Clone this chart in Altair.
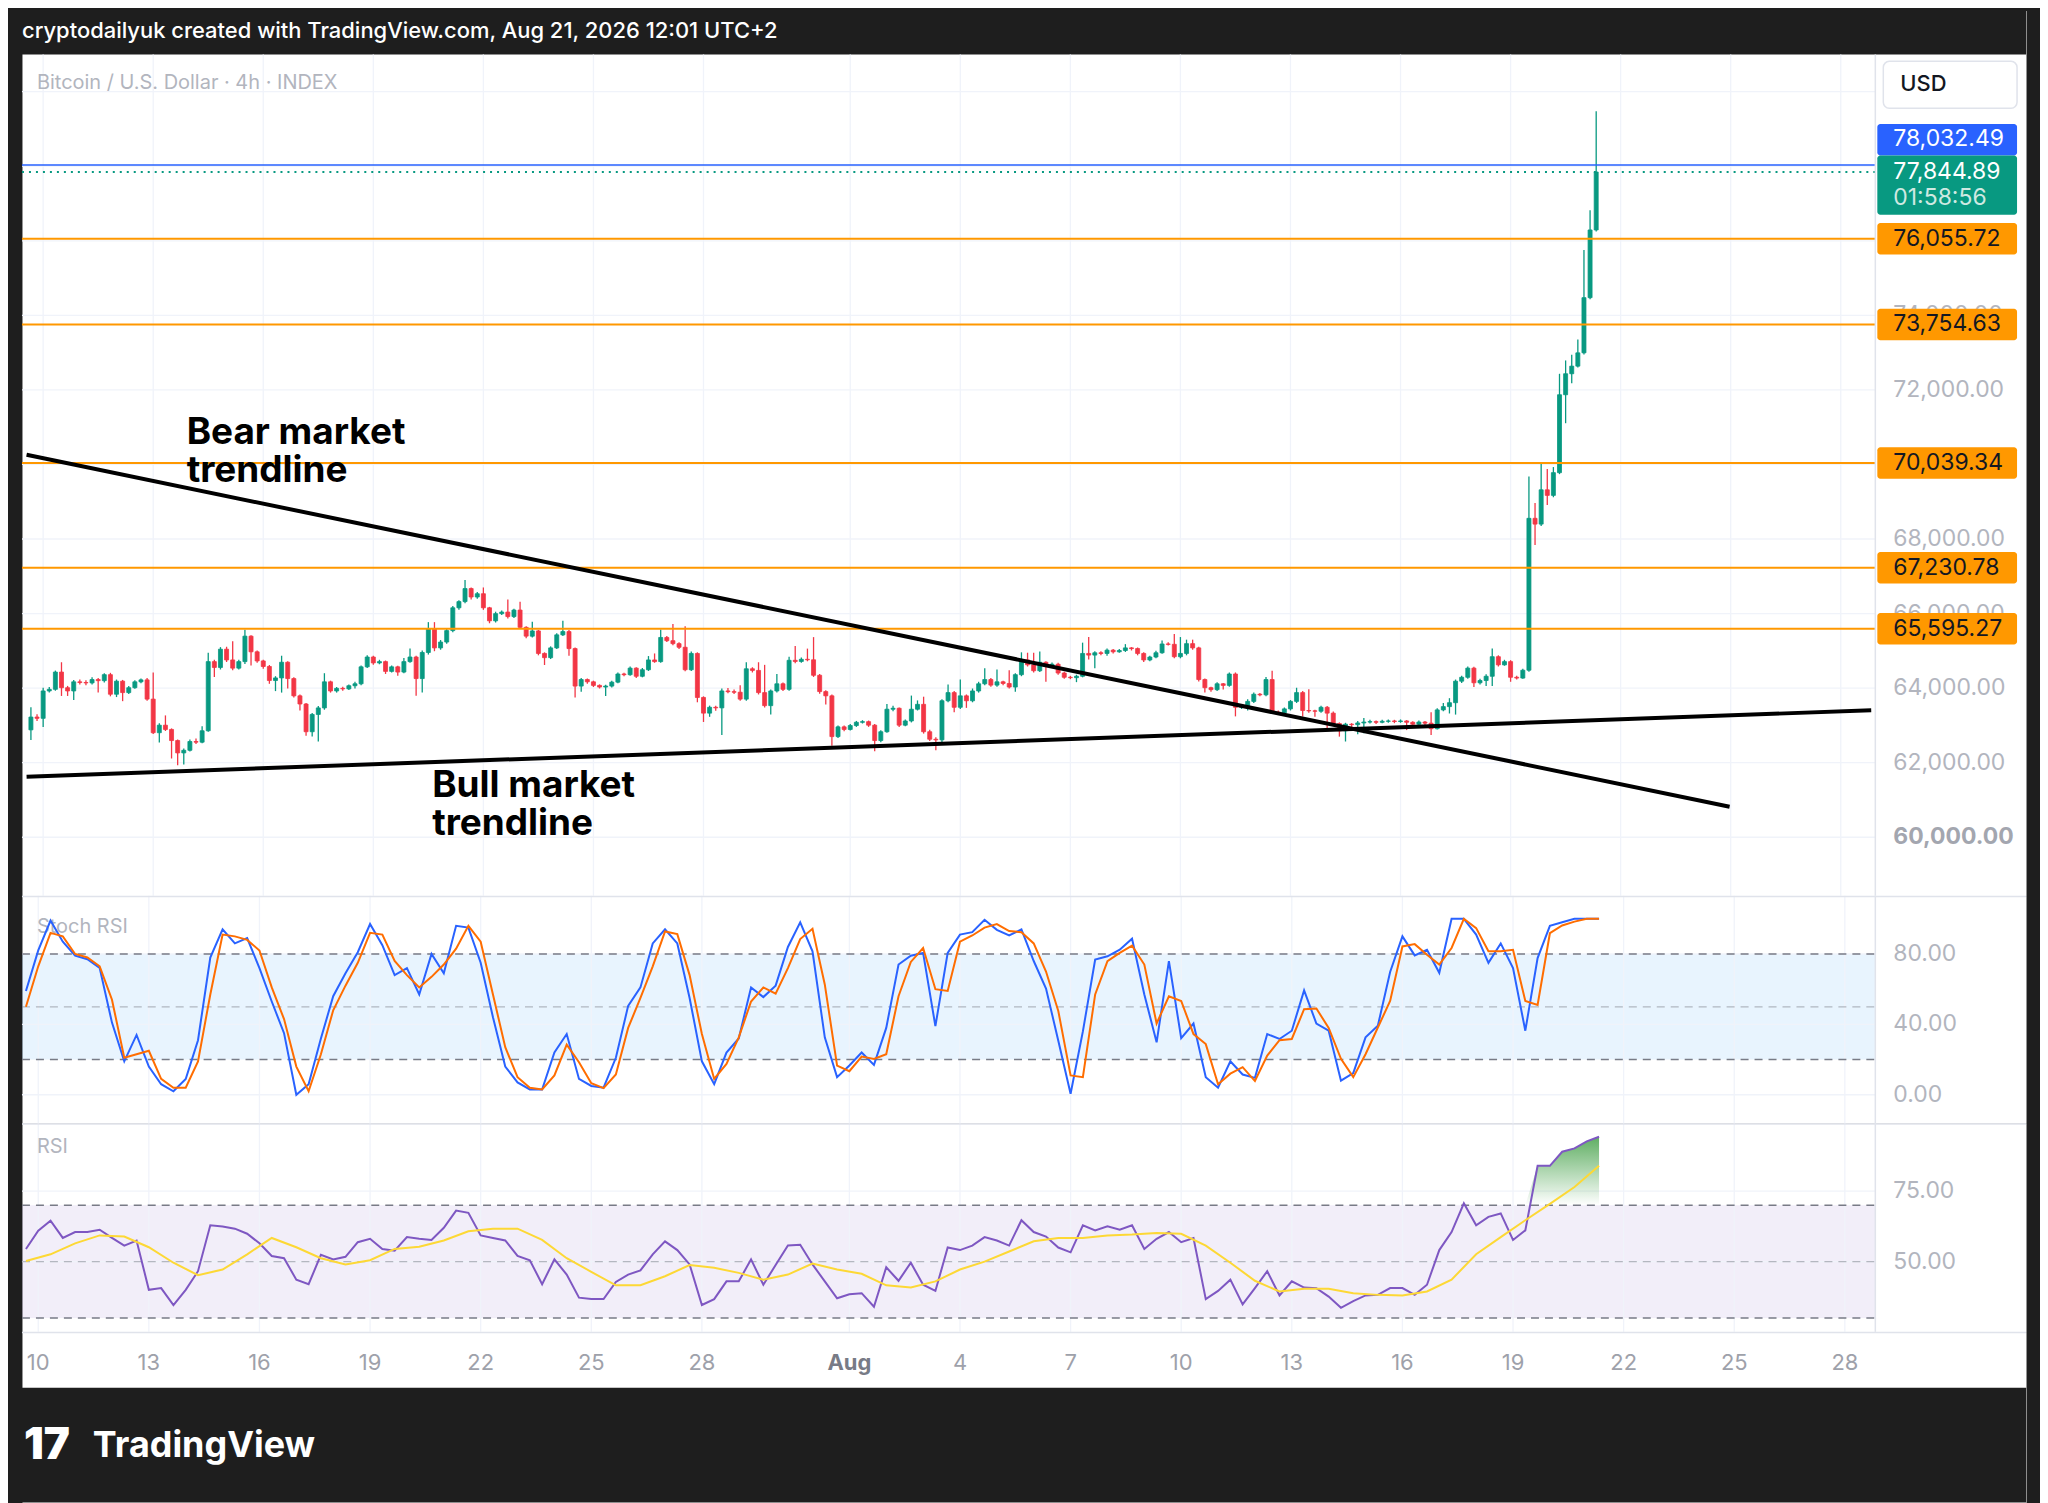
import altair as alt
import pandas as pd

# ---------------- data ----------------
first_open = 62880
close = [
    63224, 63190, 63924, 63968, 64431, 64011, 63924, 64169, 64150, 64140,
    64230, 64200, 64361, 63836, 64186, 63880, 64011, 64169, 64221, 63705,
    62804, 63006, 62891, 62594, 62262, 62332, 62568, 62550, 62856, 64711,
    64554, 65044, 64756, 64536, 64711, 65394, 64974, 64729, 64580, 64204,
    64274, 64694, 64256, 63793, 63574, 62830, 63294, 63469, 64169, 63924,
    63994, 63980, 64064, 64116, 64571, 64834, 64676, 64711, 64449, 64571,
    64431, 64711, 64834, 64256, 64956, 65587, 65079, 65236, 65543, 66155,
    66321, 66671, 66444, 66532, 66155, 65805, 65998, 66040, 65919, 66094,
    65630, 65394, 65534, 64930, 64817, 65079, 65429, 65517, 65061, 64055,
    64230, 64169, 64073, 64029, 64055, 64160, 64379, 64360, 64536, 64318,
    64493, 64756, 64711, 65359, 65272, 65193, 65096, 64493, 64930, 63749,
    63329, 63486, 63470, 63924, 63905, 63890, 63705, 64519, 64475, 63880,
    63530, 63924, 64116, 63968, 64746, 64715, 64773, 64760, 64344, 63907,
    63793, 62699, 62961, 62891, 62996, 63084, 63100, 63006, 62594, 62830,
    63434, 63460, 63006, 63119, 63434, 63565, 62830, 62629, 62612, 63661,
    63880, 63486, 63793, 63661, 63924, 64116, 64230, 64081, 64169, 64125,
    64029, 64361, 64756, 64624, 64466, 64694, 64580, 64641, 64405, 64291,
    64280, 64318, 64930, 64886, 64948, 64930, 65018, 64974, 65009, 65079,
    65061, 64930, 64756, 64834, 64948, 65184, 65175, 64843, 64930, 65193,
    65079, 64230, 64011, 63959, 64116, 64073, 64379, 63486, 63520, 63644,
    63836, 63820, 64230, 63355, 63340, 63443, 63644, 63880, 63399, 63390,
    63380, 63486, 63329, 63049, 62856, 63032, 63020, 63066, 63090, 63100,
    63084, 63110, 63119, 63105, 63119, 63084, 63032, 63090, 63060, 62911,
    63416, 63504, 63609, 64186, 64291, 64536, 64143, 64204, 64318, 64843,
    64624, 64711, 64291, 64270, 64480, 68555, 68400, 69320, 69170, 69780,
    71870, 72433, 72637, 72994, 74474, 76290, 77845,
]
high = [
    63487, 63300, 64010, 64030, 64470, 64694, 64060, 64220, 64230, 64210,
    64290, 64270, 64400, 64410, 64230, 64220, 64060, 64210, 64260, 64270,
    64420, 63060, 63268, 62920, 62620, 62380, 62620, 62650, 62980, 64948,
    64760, 65100, 65110, 65254, 64760, 65569, 65420, 65010, 64760, 64620,
    64320, 64869, 64720, 64290, 63830, 63600, 63330, 63520, 64400, 64200,
    64030, 64040, 64100, 64170, 64610, 64880, 64870, 64760, 64740, 64610,
    64600, 64810, 65061, 64870, 65010, 65770, 65770, 65290, 65600, 66200,
    66360, 66899, 66700, 66580, 66700, 66180, 66050, 66080, 66380, 66130,
    66320, 65660, 65780, 65560, 64960, 65120, 65470, 65805, 65560, 65090,
    64270, 64260, 64200, 64100, 64090, 64200, 64420, 64410, 64580, 64560,
    64540, 64860, 64930, 65570, 65400, 65718, 65230, 65657, 64980, 64960,
    63780, 63530, 63530, 63990, 64000, 63960, 64080, 64694, 64560, 64694,
    64624, 63960, 64380, 64150, 64840, 65130, 64820, 65060, 65368, 64380,
    63940, 63830, 63000, 63000, 63040, 63120, 63140, 63130, 63040, 62870,
    63574, 63530, 63480, 63160, 63800, 63670, 63770, 62880, 62680, 63700,
    64100, 63920, 64230, 63830, 63990, 64170, 64536, 64270, 64500, 64200,
    64480, 64400, 64960, 64950, 64950, 64980, 64720, 64690, 64680, 64440,
    64330, 64360, 65220, 65368, 64990, 64990, 65060, 65050, 65050, 65180,
    65100, 65090, 64960, 64870, 65000, 65280, 65230, 65455, 65370, 65300,
    65300, 65110, 64260, 64040, 64160, 64140, 64420, 64420, 63560, 63700,
    63880, 63870, 64300, 64466, 63400, 63480, 63680, 64010, 63920, 63968,
    63420, 63530, 63520, 63370, 63080, 63070, 63060, 63120, 63200, 63150,
    63130, 63150, 63160, 63150, 63160, 63140, 63110, 63130, 63120, 63355,
    63460, 63600, 63730, 64230, 64330, 64580, 64570, 64250, 64370, 65061,
    64880, 64760, 64750, 64330, 64520, 69677, 68963, 70035, 69880, 69930,
    72432, 72790, 72940, 73351, 75750, 76821, 79474,
]
low = [
    62611, 63120, 62960, 63880, 63930, 63790, 63790, 63679, 64100, 64080,
    64100, 63880, 64150, 63780, 63760, 63650, 63840, 63980, 64130, 63660,
    62770, 62540, 62850, 62112, 61930, 61950, 62300, 62500, 62520, 62830,
    64300, 64500, 64700, 64480, 64500, 64650, 64610, 64680, 64520, 64116,
    63920, 63880, 63990, 63750, 63400, 62720, 62700, 62568, 63420, 63880,
    63880, 63930, 63950, 63990, 64080, 64540, 64630, 64640, 64380, 64420,
    64330, 64400, 64680, 63793, 63880, 64900, 64990, 65030, 65190, 65500,
    66100, 66280, 66380, 66400, 66100, 65740, 65760, 65960, 65870, 65880,
    65590, 65340, 65360, 64880, 64620, 64780, 65050, 65400, 64870, 63749,
    63900, 64120, 64030, 63990, 63790, 64020, 64130, 64320, 64330, 64270,
    64290, 64460, 64680, 64680, 65240, 65150, 65050, 64450, 64460, 63620,
    63092, 63230, 63390, 62743, 63860, 63840, 63660, 63660, 64420, 63830,
    63480, 63290, 63880, 63920, 63930, 64670, 64680, 64720, 64300, 63850,
    63560, 62454, 62660, 62840, 62860, 62960, 63050, 62960, 62305, 62550,
    62800, 63380, 62960, 62980, 63080, 63400, 62780, 62580, 62332, 62480,
    63620, 63355, 63440, 63470, 63620, 63880, 64080, 64040, 64040, 64080,
    63990, 63900, 64320, 64580, 64420, 64430, 64169, 64540, 64360, 64250,
    64240, 64160, 64290, 64770, 64536, 64880, 64870, 64930, 64950, 64970,
    65010, 64880, 64700, 64720, 64800, 64920, 65140, 64800, 64800, 64880,
    65030, 64180, 63880, 63900, 63920, 63960, 64040, 63242, 63440, 63400,
    63600, 63780, 63780, 63310, 63280, 63290, 63400, 63600, 63242, 63340,
    63230, 63340, 62874, 63000, 62699, 62568, 62960, 62760, 62790, 63050,
    63040, 63060, 63070, 63060, 63070, 62874, 62990, 63000, 63010, 62743,
    62890, 63380, 63320, 63290, 64140, 64250, 64030, 64100, 64060, 64060,
    64580, 64600, 64170, 64230, 64250, 64440, 67841, 68350, 68910, 69120,
    69740, 71106, 72180, 72600, 72950, 74430, 76250,
]
# Stoch RSI %K / %D and RSI, one value every second 4h candle
stoch_k = [
    59, 82, 99, 87, 79, 77, 72, 41, 19, 34, 16, 6, 2, 9, 31, 78, 94, 86, 89, 72,
    53, 35, 0, 6, 32, 56, 69, 81, 97, 85, 68, 72, 57, 80, 69, 96, 95, 75, 44, 16,
    7, 3, 3, 24,
    34.5, 9, 5, 4, 21, 50.5, 61, 86, 94, 86, 55, 19, 6, 24, 32, 61, 55.5, 62, 84, 98,
    81.5, 32.6, 10, 16.6, 24, 17, 38, 74, 79, 80.6, 39, 80.6, 91, 92.4, 99.4, 93.7,
    90.5, 94, 76, 60.4, 30.7, 0.6, 36,
    76.8, 78.7, 82.4, 88.7, 57, 29.8, 75.9, 32.2, 40.5, 10, 4, 19, 11.5, 9.6, 34.5,
    31.7, 36.4, 59.3, 40.5, 36.4, 8, 12.3, 32.6, 39.2, 69.8, 90, 79.2, 82.4, 69.3,
    100, 100, 91, 75, 86, 72, 36.4, 77.7, 96, 98, 100, 100, 100,
]
stoch_d = [
    50, 73, 92, 90, 80, 78, 73, 54, 21, 23, 25, 9, 4, 4, 19, 57, 91, 90, 88, 82,
    61, 43, 16, 2, 23, 48, 62, 75, 92, 91, 76, 68, 61, 67, 74, 83, 96, 87, 57, 27,
    10, 4, 3, 11,
    28.5, 18.5, 6.6, 3.8, 11.5, 38, 55, 73, 92.8, 91.3, 68, 34.5, 9, 17.5, 32.6, 53,
    61, 57.4, 72, 88.5, 94.3, 62.7, 16.6, 13.4, 21.7, 20.4, 23, 56, 75.5, 83.4, 60,
    59, 87, 90.5, 95, 97, 93, 92.4, 86, 70, 47.6, 11, 10,
    57, 75.9, 80.6, 84.7, 74, 40.5, 56, 53.3, 34.5, 28.8, 6, 12, 15.7, 7.8, 22.3, 31,
    31.7, 48.6, 49, 38, 20.4, 10, 23, 38.2, 53.3, 84.3, 85.6, 79.6, 74, 83.4, 100,
    94.7, 81.5, 81.5, 82.4, 53.3, 51, 91.8, 96.2, 98.4, 100, 100,
]
rsi = [
    54.5, 61, 64.5, 58.4, 60.5, 60.5, 61.3, 58.4, 55.7, 57.5, 40, 40.6, 34.6, 40,
    46.6, 62.9, 62.5, 61.7, 59.9, 56.5, 52, 51.2, 43.6, 42, 52.4, 50.8, 51.7, 56.9,
    58.1, 54.5, 53.9, 58.7, 58.1, 57.7, 62, 68.1, 67.3, 59.3, 58.4, 57.5, 52, 50.5,
    42, 50.8,
    45.4, 37.2, 36.7, 36.7, 42.8, 45.4, 46.9, 52.6, 57.2, 54.1, 49, 34.6, 36.7, 43,
    43, 50.8, 41.8, 48.8, 55.7, 56, 49, 43, 37, 38.4, 38.8, 34, 48, 43.2, 49.6, 41.8,
    39.6, 55, 54.1, 55.7, 58.7, 57.5, 55.7, 64.7, 60.5, 58.9, 55, 53.3, 62.9,
    61.1, 62.5, 61.3, 62.9, 54.5, 58.1, 60.5, 56.9, 58.4, 36.7, 39.6, 43.6, 34.8,
    40.6, 46.6, 38, 43, 40.8, 40.6, 37.6, 33.6, 36, 38, 38.2, 40.6, 40.6, 38.2, 41.8,
    54.1, 60.5, 70.7, 62.9, 65.9, 67.1, 57.7, 61.1, 84, 84, 89, 90.2, 92.7, 94.3,
]
# RSI-based moving average, one value every fourth 4h candle
rsi_ma = [
    50.2, 52.6, 56.5, 59.3, 58.9, 55.1, 49.6, 45.2, 47.2, 52.6, 58.4, 55.1, 51.2, 49,
    50.5, 54.5, 55.3, 57.5, 60.8, 61.7, 61.7, 57.7,
    51.2, 46.4, 41.6, 41.6, 44.8, 48.8, 47.8, 46, 43.6, 45.4, 49.3, 47.2, 45.7, 41.6,
    40.8, 43, 47.2, 50, 53.6, 57.2, 58.4, 58.4,
    59.3, 59.6, 60.2, 59.9, 55.7, 49.6, 43.2, 39.4, 40.4, 40.4, 38.8, 38.2, 38, 39.4,
    43.6, 52.6, 58.7, 64.7, 70.5, 76.5, 84,
]
levels = [76055.72, 73754.63, 70039.34, 67230.78, 65595.27]
last_high = 78032.49
last_price = 77844.89
countdown = "01:58:56"
price_grid = [60000, 62000, 64000, 66000, 68000, 70000, 72000, 74000, 76000, 78000, 80000]
price_ticks = [60000, 62000, 64000, 66000, 68000, 72000, 74000]   # labels not hidden by boxes
stoch_ticks = [0, 40, 80]
rsi_ticks = [50, 75]
stoch_levels = [80, 20]
rsi_levels = [70, 30]
date_days = [0, 3, 6, 9, 12, 15, 18, 22, 25, 28, 31, 34, 37, 40, 43, 46, 49]
date_labels = ["10", "13", "16", "19", "22", "25", "28", "Aug", "4", "7", "10",
               "13", "16", "19", "22", "25", "28"]
bear_day = [-0.452, 45.97]
bear_price = [70260, 60819]
bull_day = [-0.452, 49.83]
bull_price = [61622, 63406]

assert len(close) == len(high) == len(low) == 257
assert len(stoch_k) == len(stoch_d) == len(rsi) == 129
assert len(rsi_ma) == 65

# ---------------- style / layout ----------------
FONT = "Inter"
BG = "#1e1e1e"
UP, DOWN = "#089981", "#f23645"
ORANGE, BLUE = "#ff9800", "#2962ff"
GRID, BORDER = "#f0f3fa", "#e0e3eb"
AX = "#b2b5be"
W = 2008
SEP = 1857
LBL_X = 1875
BX1, BX2 = 1859, 1999
BOX_HALF = 15.8
H_HEAD, H_MAIN, H_STOCH, H_RSI, H_TIME, H_FOOT = 44, 843, 228, 209, 56, 115
X_DOM = [-0.4412, 53.914]
MAIN_DOM = [58431, 81000]
STOCH_DOM = [-16.2, 113.1]
RSI_DOM = [25.07, 99.1]

ONE = pd.DataFrame({"a": [0]})


def X(field="day"):
    return alt.X(f"{field}:Q", scale=alt.Scale(domain=X_DOM, nice=False, zero=False), axis=None)


def Y(field, dom):
    return alt.Y(f"{field}:Q", scale=alt.Scale(domain=dom, nice=False, zero=False), axis=None)


def txt(text, x, y, size=21, color=AX, weight="normal", align="left", line_height=None):
    kw = dict(text=text, font=FONT, fontSize=size, color=color, fontWeight=weight,
              align=align, baseline="middle")
    if line_height:
        kw["lineHeight"] = line_height
    return alt.Chart(ONE).mark_text(**kw).encode(x=alt.value(x), y=alt.value(y))


def vgrid(h):
    return alt.Chart(pd.DataFrame({"day": date_days})).mark_rule(
        color=GRID, strokeWidth=1.3).encode(x=X(), y=alt.value(0), y2=alt.value(h))


def hline(values, dom, color, width=1.3, dash=None, x2=SEP, opacity=1.0):
    kw = dict(color=color, strokeWidth=width, opacity=opacity)
    if dash:
        kw["strokeDash"] = dash
    return alt.Chart(pd.DataFrame({"v": values})).mark_rule(**kw).encode(
        y=Y("v", dom), x=alt.value(0), x2=alt.value(x2))


def sep(h):
    return alt.Chart(ONE).mark_rule(color=BORDER, strokeWidth=1.5).encode(
        x=alt.value(SEP), y=alt.value(0), y2=alt.value(h))


def top_border():
    return alt.Chart(ONE).mark_rule(color=BORDER, strokeWidth=1.5).encode(
        x=alt.value(0), x2=alt.value(W), y=alt.value(0.75))


# ---------------- frames ----------------
n = len(close)
candles = pd.DataFrame({
    "day": [(i - 2) / 6 for i in range(n)],
    "open": [first_open] + close[:-1],
    "close": close, "high": high, "low": low,
})
ind = pd.DataFrame({"day": [(2 * k - 2) / 6 for k in range(len(rsi))],
                    "k": stoch_k, "d": stoch_d, "rsi": rsi})
ma = pd.DataFrame({"day": [(4 * k - 2) / 6 for k in range(len(rsi_ma))], "ma": rsi_ma})
trend = pd.DataFrame({
    "day": bear_day + bull_day, "price": bear_price + bull_price,
    "name": ["bear", "bear", "bull", "bull"],
})
lv = pd.DataFrame({"price": levels, "label": [f"{v:,.2f}" for v in levels]})
ticks = pd.DataFrame({"price": price_ticks[1:], "label": [f"{v:,.2f}" for v in price_ticks[1:]]})
tick0 = pd.DataFrame({"price": price_ticks[:1], "label": [f"{v:,.2f}" for v in price_ticks[:1]]})

updown = alt.condition("datum.close >= datum.open", alt.value(UP), alt.value(DOWN))

# ---------------- header ----------------
header = alt.layer(
    alt.Chart(ONE).mark_rect(color=BG).encode(
        x=alt.value(0), x2=alt.value(W), y=alt.value(0), y2=alt.value(H_HEAD)),
    txt("cryptodailyuk created with TradingView.com, Aug 21, 2026 12:01 UTC+2",
        0, 21, size=22, color="#ffffff", weight=500),
).properties(width=W, height=H_HEAD)

# ---------------- main pane ----------------
wicks = alt.Chart(candles).mark_rule(strokeWidth=1.3).encode(
    x=X(), y=Y("low", MAIN_DOM), y2="high:Q", color=updown)
bodies = alt.Chart(candles).mark_bar(size=4, strokeWidth=0.8).encode(
    x=X(), y=Y("open", MAIN_DOM), y2="close:Q", color=updown, stroke=updown)
trendlines = alt.Chart(trend).mark_line(color="#000000", strokeWidth=4, clip=True).encode(
    x=X(), y=Y("price", MAIN_DOM), detail="name:N")

price_labels = alt.Chart(ticks).mark_text(
    font=FONT, fontSize=23, color=AX, align="left", baseline="middle").encode(
    x=alt.value(LBL_X), y=Y("price", MAIN_DOM), text="label:N")
price_label0 = alt.Chart(tick0).mark_text(
    font=FONT, fontSize=23, color="#a3a6af", fontWeight="bold", align="left",
    baseline="middle").encode(x=alt.value(LBL_X), y=Y("price", MAIN_DOM), text="label:N")

level_boxes = alt.Chart(lv).mark_rect(
    color=ORANGE, yOffset=-BOX_HALF, y2Offset=BOX_HALF, cornerRadius=3).encode(
    x=alt.value(BX1), x2=alt.value(BX2), y=Y("price", MAIN_DOM), y2="price:Q")
level_text = alt.Chart(lv).mark_text(
    font=FONT, fontSize=23, color="#131722", align="left", baseline="middle").encode(
    x=alt.value(LBL_X), y=Y("price", MAIN_DOM), text="label:N")


def box(y1, y2, color):
    return alt.Chart(ONE).mark_rect(color=color, cornerRadius=3).encode(
        x=alt.value(BX1), x2=alt.value(BX2), y=alt.value(y1), y2=alt.value(y2))


main = alt.layer(
    vgrid(H_MAIN),
    hline(price_grid, MAIN_DOM, GRID),
    wicks, bodies,
    hline([last_high], MAIN_DOM, BLUE, width=1.5),
    hline([last_price], MAIN_DOM, UP, width=2, dash=[2, 5]),
    hline(levels, MAIN_DOM, ORANGE, width=2),
    trendlines,
    txt("Bitcoin / U.S. Dollar · 4h · INDEX", 15, 29, size=20),
    txt(["Bear market", "trendline"], 165, 379, size=37, color="#000000",
        weight="bold", line_height=38),
    txt(["Bull market", "trendline"], 411, 733, size=37, color="#000000",
        weight="bold", line_height=38),
    sep(H_MAIN),
    price_labels, price_label0,
    alt.Chart(ONE).mark_rect(fill="white", stroke=BORDER, strokeWidth=1.5, cornerRadius=6).encode(
        x=alt.value(1865), x2=alt.value(1999), y=alt.value(7), y2=alt.value(54)),
    txt("USD", 1882, 30, size=22, color="#131722", weight=500),
    level_boxes, level_text,
    box(69.7, 101.3, BLUE),
    txt(f"{last_high:,.2f}", LBL_X, 85, size=23, color="#ffffff"),
    box(101.3, 160.7, UP),
    txt(f"{last_price:,.2f}", LBL_X, 118, size=23, color="#ffffff"),
    txt(countdown, LBL_X, 143.5, size=23, color="#cfe9e2"),
).properties(width=W, height=H_MAIN)

# ---------------- Stoch RSI pane ----------------
stoch_band = alt.Chart(pd.DataFrame({"lo": [20], "hi": [80]})).mark_rect(
    color="#2196f3", opacity=0.1).encode(
    x=alt.value(0), x2=alt.value(SEP), y=Y("lo", STOCH_DOM), y2="hi:Q")
stoch_lab = alt.Chart(pd.DataFrame({"v": stoch_ticks, "label": [f"{v:.2f}" for v in stoch_ticks]})).mark_text(
    font=FONT, fontSize=23, color=AX, align="left", baseline="middle").encode(
    x=alt.value(LBL_X), y=Y("v", STOCH_DOM), text="label:N")
stoch = alt.layer(
    stoch_band,
    vgrid(H_STOCH),
    hline(stoch_ticks, STOCH_DOM, GRID),
    hline(stoch_levels, STOCH_DOM, "#787b86", width=1.6, dash=[8, 6]),
    hline([50], STOCH_DOM, "#787b86", width=1.3, dash=[8, 6], opacity=0.5),
    txt("Stoch RSI", 15, 31, size=20),
    alt.Chart(ind).mark_line(color=BLUE, strokeWidth=2).encode(x=X(), y=Y("k", STOCH_DOM)),
    alt.Chart(ind).mark_line(color="#ff6d00", strokeWidth=2).encode(x=X(), y=Y("d", STOCH_DOM)),
    sep(H_STOCH),
    stoch_lab,
    top_border(),
).properties(width=W, height=H_STOCH)

# ---------------- RSI pane ----------------
rsi_band = alt.Chart(pd.DataFrame({"lo": [30], "hi": [70]})).mark_rect(
    color="#7e57c2", opacity=0.1).encode(
    x=alt.value(0), x2=alt.value(SEP), y=Y("lo", RSI_DOM), y2="hi:Q")
green_fill = alt.Chart(ind).transform_calculate(
    top="max(datum.rsi, 70)", base="70").mark_area(
    color=alt.LinearGradient(
        gradient="linear",
        stops=[alt.GradientStop(color="rgba(67,160,71,0.85)", offset=0),
               alt.GradientStop(color="rgba(67,160,71,0)", offset=1)],
        x1=1, x2=1, y1=0, y2=1)).encode(x=X(), y=Y("top", RSI_DOM), y2="base:Q")
rsi_lab = alt.Chart(pd.DataFrame({"v": rsi_ticks, "label": [f"{v:.2f}" for v in rsi_ticks]})).mark_text(
    font=FONT, fontSize=23, color=AX, align="left", baseline="middle").encode(
    x=alt.value(LBL_X), y=Y("v", RSI_DOM), text="label:N")
rsi_pane = alt.layer(
    rsi_band,
    vgrid(H_RSI),
    hline(rsi_ticks, RSI_DOM, GRID),
    hline(rsi_levels, RSI_DOM, "#787b86", width=1.6, dash=[8, 6]),
    hline([50], RSI_DOM, "#787b86", width=1.3, dash=[8, 6], opacity=0.5),
    green_fill,
    txt("RSI", 15, 24, size=20),
    alt.Chart(ind).mark_line(color="#7e57c2", strokeWidth=2).encode(x=X(), y=Y("rsi", RSI_DOM)),
    alt.Chart(ma).mark_line(color="#fdd835", strokeWidth=2).encode(x=X(), y=Y("ma", RSI_DOM)),
    sep(H_RSI),
    rsi_lab,
    top_border(),
).properties(width=W, height=H_RSI)

# ---------------- time axis ----------------
dates = pd.DataFrame({"day": date_days, "label": date_labels})
time_pane = alt.layer(
    top_border(),
    alt.Chart(dates).transform_filter("datum.label != 'Aug'").mark_text(
        font=FONT, fontSize=22, color="#9ea1aa", align="center", baseline="middle").encode(
        x=X(), y=alt.value(31), text="label:N"),
    alt.Chart(dates).transform_filter("datum.label == 'Aug'").mark_text(
        font=FONT, fontSize=22, color="#787b86", fontWeight="bold", align="center",
        baseline="middle").encode(x=X(), y=alt.value(31), text="label:N"),
).properties(width=W, height=H_TIME)

# ---------------- footer ----------------
footer = alt.layer(
    alt.Chart(ONE).mark_rect(color=BG).encode(
        x=alt.value(0), x2=alt.value(W), y=alt.value(0), y2=alt.value(H_FOOT)),
    txt("17", 2, 58, size=44, color="#ffffff", weight=900),
    txt("TradingView", 71, 58, size=36, color="#ffffff", weight="bold"),
).properties(width=W, height=H_FOOT)

chart = alt.vconcat(
    header, main, stoch, rsi_pane, time_pane, footer, spacing=0, bounds="flush",
).resolve_scale(x="independent", y="independent").properties(
    background=BG, padding={"left": 12, "right": 12, "top": 0, "bottom": 0},
).configure_view(stroke="transparent", fill="white")

chart.save("out.html", embed_options={"renderer": "svg", "actions": False})
